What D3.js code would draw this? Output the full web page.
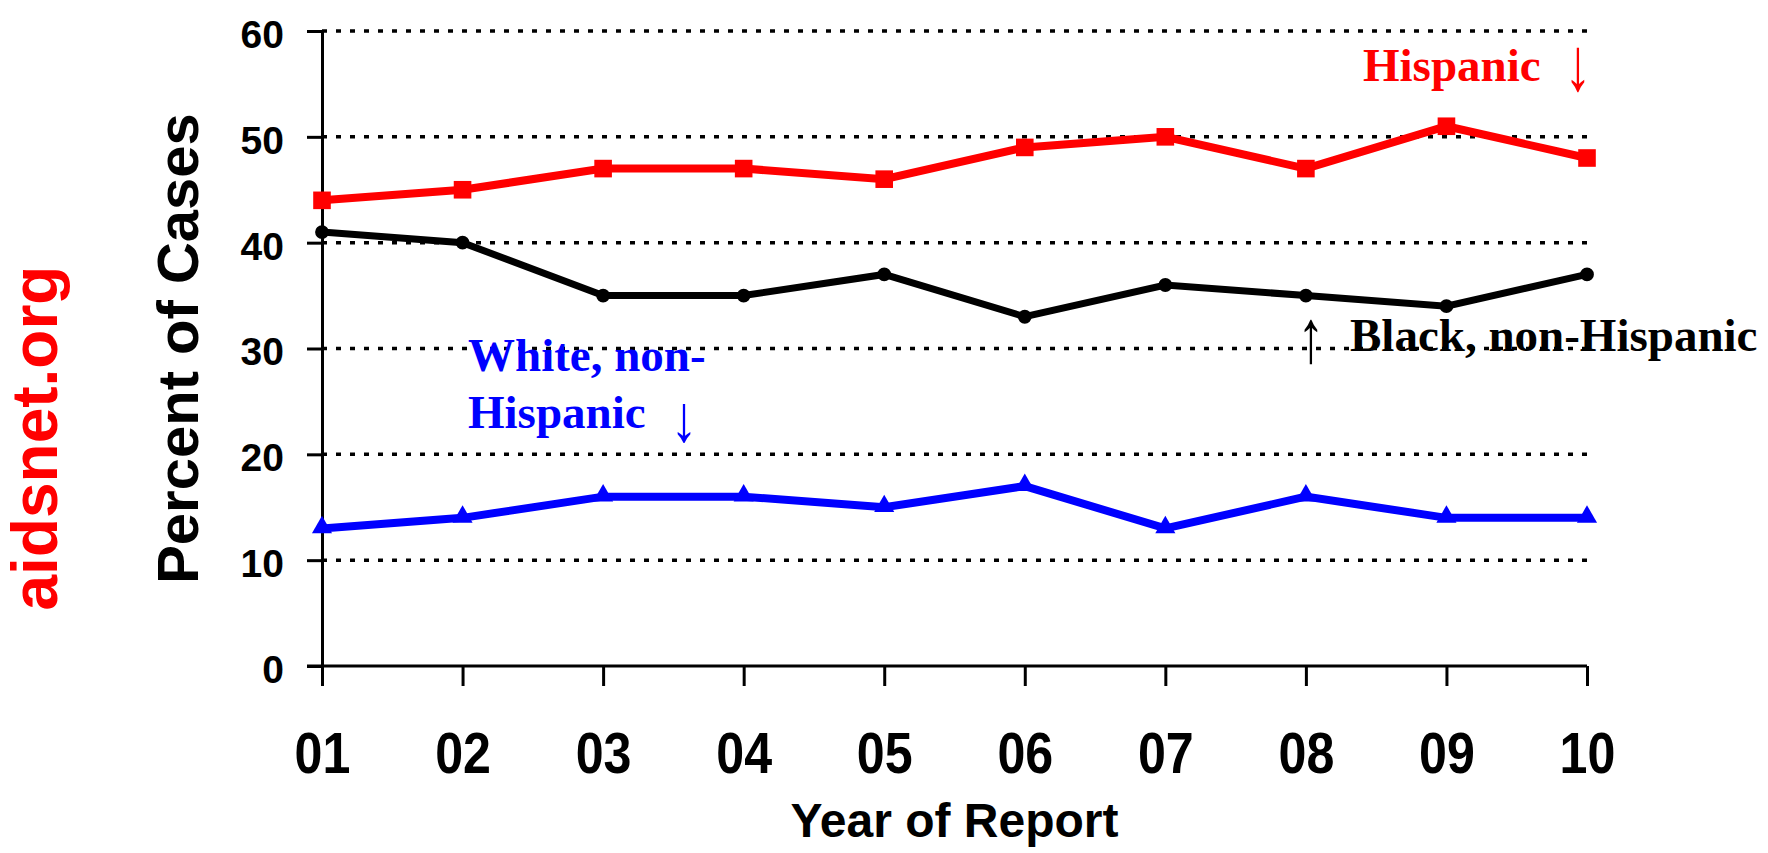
<!DOCTYPE html>
<html>
<head>
<meta charset="utf-8">
<script src="https://cdn.jsdelivr.net/npm/d3@7"></script>
<style>
  html, body { margin: 0; padding: 0; background: #fff; }
  svg { display: block; }
</style>
</head>
<body>
<svg id="chart" width="1768" height="853"></svg>
<script>
// ---- data ----
const years = ["01", "02", "03", "04", "05", "06", "07", "08", "09", "10"];
const hispanic = [44, 45, 47, 47, 46, 49, 50, 47, 51, 48];
const blackNonHispanic = [41, 40, 35, 35, 37, 33, 36, 35, 34, 37];
const whiteNonHispanic = [13, 14, 16, 16, 15, 17, 13, 16, 14, 14];
const yTicks = [0, 10, 20, 30, 40, 50, 60];
const yTitle = "Percent of Cases";
const xTitle = "Year of Report";
const watermark = "aidsnet.org";

(function () {
const SANS = "'Liberation Sans', Arial, Helvetica, sans-serif";
const SERIF = "'Liberation Serif', 'Times New Roman', Times, serif";

const svg = d3.select("#chart");
const pLeft = 322, pRight = 1587, pTop = 31, pBottom = 666;

const x = d3.scalePoint().domain(years).range([pLeft, pRight]);
const y = d3.scaleLinear().domain([0, 60]).range([pBottom, pTop]);

// gridlines (dotted)
svg.append("g").selectAll("line")
  .data(yTicks.filter(d => d > 0))
  .join("line")
  .attr("x1", pLeft).attr("x2", pRight)
  .attr("y1", d => y(d)).attr("y2", d => y(d))
  .attr("stroke", "#000").attr("stroke-width", 3.5)
  .attr("stroke-dasharray", "5,9");

// y axis
const yAxis = svg.append("g")
  .attr("transform", `translate(${pLeft},0)`)
  .call(d3.axisLeft(y).tickValues(yTicks).tickSize(15).tickPadding(23).tickSizeOuter(0));
yAxis.select(".domain").attr("stroke", "#000").attr("stroke-width", 3);
yAxis.selectAll(".tick line").attr("stroke", "#000").attr("stroke-width", 3);
yAxis.selectAll(".tick text")
  .attr("font-family", SANS).attr("font-weight", "bold").attr("font-size", 39)
  .attr("fill", "#000").attr("dy", "0.42em");

// x axis
const xAxis = svg.append("g")
  .attr("transform", `translate(0,${pBottom})`)
  .call(d3.axisBottom(x).tickSize(20).tickPadding(0).tickSizeOuter(0));
xAxis.select(".domain").attr("stroke", "#000").attr("stroke-width", 3)
  .attr("d", `M${pLeft - 15},0H${pRight}`);
xAxis.selectAll(".tick line").attr("stroke", "#000").attr("stroke-width", 3);
xAxis.selectAll(".tick text")
  .attr("font-family", SANS).attr("font-weight", "bold").attr("font-size", 57)
  .attr("fill", "#000").attr("dy", 0).attr("y", 107)
  .attr("transform", "scale(0.88,1)");

// axis titles
svg.append("text")
  .attr("x", (pLeft + pRight) / 2).attr("y", 837)
  .attr("text-anchor", "middle")
  .attr("font-family", SANS).attr("font-weight", "bold").attr("font-size", 48)
  .text(xTitle);

svg.append("text")
  .attr("transform", `translate(198,${(pTop + pBottom) / 2}) rotate(-90)`)
  .attr("text-anchor", "middle")
  .attr("font-family", SANS).attr("font-weight", "bold").attr("font-size", 58)
  .text(yTitle);

svg.append("text")
  .attr("transform", `translate(57,438) rotate(-90)`)
  .attr("text-anchor", "middle")
  .attr("font-family", SANS).attr("font-weight", "bold").attr("font-size", 64)
  .attr("fill", "#ff0000")
  .text(watermark);

// series
const series = [
  { name: "Black, non-Hispanic", values: blackNonHispanic, color: "#000000", width: 7, marker: "circle" },
  { name: "White, non-Hispanic", values: whiteNonHispanic, color: "#0000ff", width: 8, marker: "triangle" },
  { name: "Hispanic", values: hispanic, color: "#ff0000", width: 8, marker: "square" }
];

const line = d3.line().x(d => x(d.year)).y(d => y(d.v));
const symbolType = { circle: d3.symbolCircle, triangle: d3.symbolTriangle, square: d3.symbolSquare };
const symbolSize = { circle: 150, triangle: 175, square: 310 };

series.forEach(s => {
  const pts = years.map((yr, i) => ({ year: yr, v: s.values[i] }));
  const g = svg.append("g");
  g.append("path").datum(pts)
    .attr("d", line)
    .attr("fill", "none")
    .attr("stroke", s.color)
    .attr("stroke-width", s.width)
    .attr("stroke-linejoin", "miter");
  g.selectAll("path.m").data(pts).join("path")
    .attr("class", "m")
    .attr("transform", d => `translate(${x(d.year)},${y(d.v) + (s.marker === "triangle" ? -1 : 0)})`)
    .attr("d", d3.symbol().type(symbolType[s.marker]).size(symbolSize[s.marker]))
    .attr("fill", s.color);
});

// annotations
function note(txt, px, py, color) {
  return svg.append("text")
    .attr("x", px).attr("y", py)
    .attr("font-family", SERIF).attr("font-weight", "bold").attr("font-size", 47)
    .attr("fill", color)
    .text(txt);
}
function arrow(ch, px, py, color, sy) {
  return svg.append("text")
    .attr("transform", `translate(${px},${py}) scale(1.15,${sy})`)
    .attr("text-anchor", "middle")
    .attr("font-family", SERIF).attr("font-weight", "normal").attr("font-size", 47)
    .attr("fill", color)
    .text(ch);
}
note("Hispanic", 1363, 81, "#ff0000");
arrow("\u2193", 1578, 90, "#ff0000", 1.6);

note("Black, non-Hispanic", 1350, 351, "#000000");
arrow("\u2191", 1311, 362, "#000000", 1.6);

note("White, non-", 468, 371, "#0000ff");
note("Hispanic", 468, 428, "#0000ff");
arrow("\u2193", 684, 441, "#0000ff", 1.4);
})();
</script>
</body>
</html>
